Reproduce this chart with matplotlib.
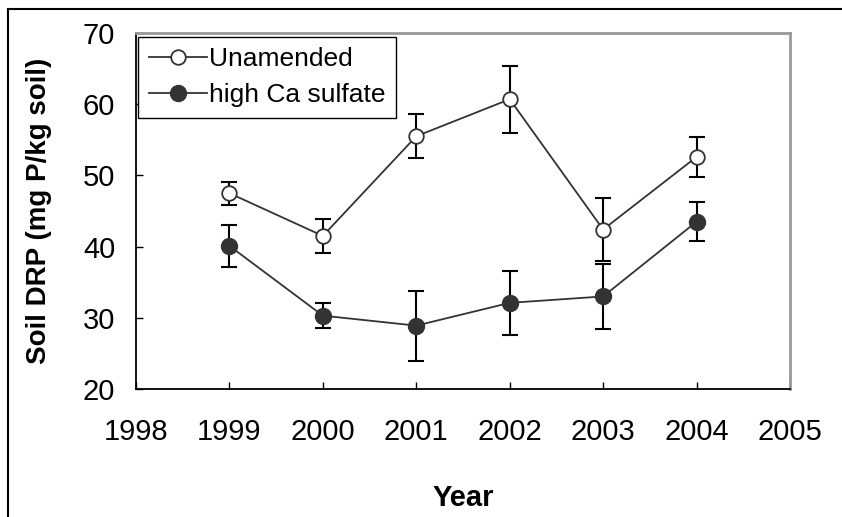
import matplotlib.pyplot as plt
from matplotlib.lines import Line2D

plt.rcParams["font.family"] = ["Liberation Sans", "DejaVu Sans"]

years = [1999, 2000, 2001, 2002, 2003, 2004]
unamended = [47.5, 41.5, 55.5, 60.7, 42.4, 52.6]
unamended_err = [1.6, 2.4, 3.1, 4.7, 4.4, 2.8]
ca_sulfate = [40.1, 30.3, 28.9, 32.1, 33.0, 43.5]
ca_sulfate_err = [3.0, 1.8, 4.9, 4.5, 4.6, 2.7]

fig = plt.figure(figsize=(8.42, 5.17), dpi=100)
ax = fig.add_axes([136 / 842, 1 - 389 / 517, 654 / 842, 356 / 517])

line_color = "#333333"
ax.errorbar(years, unamended, yerr=unamended_err, fmt="none", ecolor="black",
            elinewidth=1.5, capsize=5.5, capthick=1.5, zorder=2)
ax.errorbar(years, ca_sulfate, yerr=ca_sulfate_err, fmt="none", ecolor="black",
            elinewidth=1.5, capsize=5.5, capthick=1.5, zorder=2)
ax.plot(years, unamended, color=line_color, lw=1.3, marker="o", markersize=10.5,
        markerfacecolor="white", markeredgecolor=line_color, markeredgewidth=1.3,
        label="Unamended", zorder=3)
ax.plot(years, ca_sulfate, color=line_color, lw=1.3, marker="o", markersize=11.5,
        markerfacecolor=line_color, markeredgecolor=line_color,
        label="high Ca sulfate", zorder=3)

ax.set_xlim(1998, 2005)
ax.set_ylim(20, 70)
ax.set_xticks(range(1998, 2006))
ax.set_yticks(range(20, 71, 10))
ax.tick_params(direction="in", length=5, width=1, labelsize=21)
ax.tick_params(axis="x", pad=21)
ax.tick_params(axis="y", pad=15)

for side in ("left", "bottom"):
    ax.spines[side].set_color("black")
    ax.spines[side].set_linewidth(1.3)
for side in ("top", "right"):
    ax.spines[side].set_color("#999999")
    ax.spines[side].set_linewidth(2)

ax.set_ylabel("Soil DRP (mg P/kg soil)", fontsize=20, fontweight="bold", labelpad=22)
ax.set_xlabel("Year", fontsize=21, fontweight="bold", labelpad=27)

leg = ax.legend(loc="upper left", bbox_to_anchor=(0.003, 0.99), fontsize=19,
                frameon=True, fancybox=False, edgecolor="black", framealpha=1,
                handlelength=2.2, handletextpad=0.1, borderpad=0.4,
                labelspacing=0.45, borderaxespad=0)
leg.get_frame().set_linewidth(1)

# outer frame of the figure
top = 1 - 9 / 517
left = 8 / 842
fig.add_artist(Line2D([left, 1], [top, top], color="black", lw=1.5))
fig.add_artist(Line2D([left, left], [0, top], color="black", lw=1.5))

fig.savefig("out.png", dpi=100)
